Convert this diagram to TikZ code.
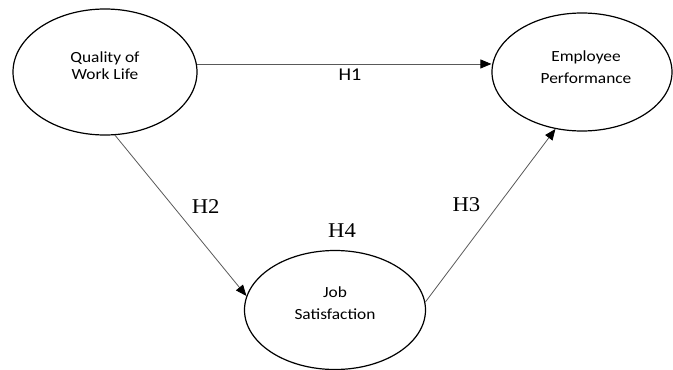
\documentclass[tikz,border=0pt]{standalone}
\usepackage{fontspec}
\setmainfont{Carlito}[FakeStretch=1.12]
\newfontfamily\hypfont{Liberation Serif}[FakeStretch=1.08]
\usetikzlibrary{shapes.geometric, arrows.meta, positioning}

\begin{document}
\begin{tikzpicture}[x=1pt,y=-1pt,
    construct/.style={ellipse, draw, line width=1.2pt, inner sep=0pt},
    name_text/.style={align=center, font=\fontsize{15.5}{22}\selectfont},
    hyp/.style={font=\hypfont\fontsize{21}{24}\selectfont},
    path_arrow/.style={-{Triangle[length=11pt,width=9pt,color=black]}, draw=black!65, line width=0.8pt}]
    \useasboundingbox (0,0) rectangle (673,370);
    \node[construct, minimum width=184pt, minimum height=126pt,
        label={[name_text, font=\fontsize{15.5}{17}\selectfont, yshift=6pt]center:Quality of\\Work Life}] (qwl) at (105,72) {};
    \node[construct, minimum width=180pt, minimum height=118pt,
        label={[name_text, yshift=5pt, xshift=4pt]center:Employee\\Performance}] (emp) at (582,72) {};
    \node[construct, minimum width=181pt, minimum height=119pt,
        label={[name_text, yshift=7pt]center:Job\\Satisfaction},
        label={[hyp, xshift=7pt, yshift=9pt]above:H4}] (jsat) at (335,310) {};

    \draw[path_arrow] (qwl.5) -- node[pos=0.52, yshift=-11pt, font=\fontsize{18}{20}\selectfont] {H1} (qwl.5 -| emp.west);
    \draw[path_arrow] (qwl.-81) -- node[hyp, pos=0.5, xshift=25pt, yshift=9pt] {H2} (jsat.171);
    \draw[path_arrow] (jsat.5) -- node[hyp, pos=0.5, xshift=-24pt, yshift=11pt] {H3} (emp.-115);
\end{tikzpicture}
\end{document}
